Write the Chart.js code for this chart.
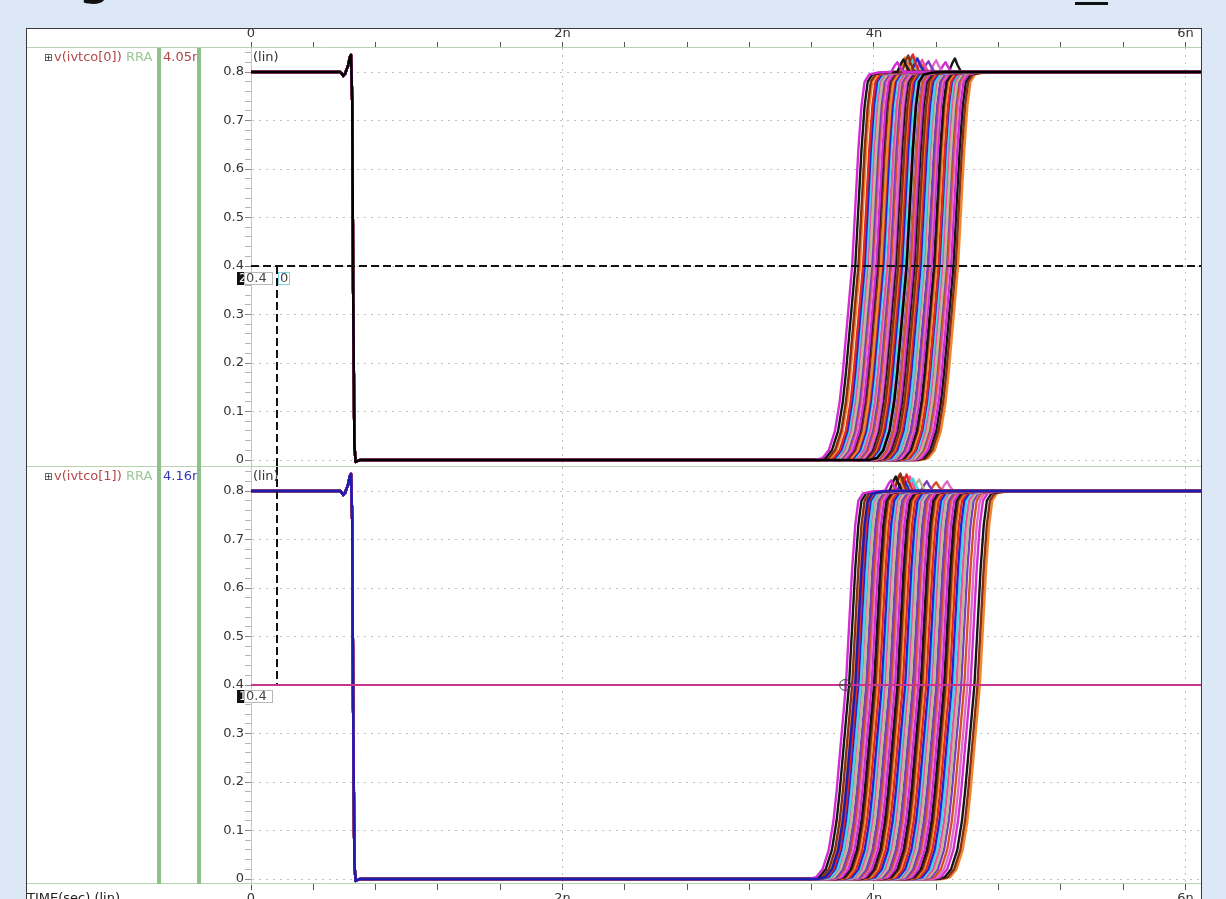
<!DOCTYPE html>
<html>
<head>
<meta charset="utf-8">
<title>v(ivtco) Monte Carlo transient</title>
<script src="https://cdn.jsdelivr.net/npm/chart.js@4.4.1/dist/chart.umd.min.js"></script>
<style>
  html, body { margin: 0; padding: 0; }
  body { position: relative; width: 1226px; height: 899px; overflow: hidden; background: #dce8f5; font-family: 'DejaVu Sans', sans-serif; }
  #title-g { position: absolute; left: 77px; top: -55px; font-size: 56px; line-height: 56px; color: #111; }
  #title-bar { position: absolute; left: 1075px; top: 2px; width: 33px; height: 3px; background: #111; }
  #frame { position: absolute; left: 26px; top: 28px; width: 1174px; height: 900px; border: 1px solid #3a3a3a; background: #fff; }
  .panel { position: absolute; left: 27px; width: 1174px; }
  .panel canvas { display: block; }
  #p1 { top: 29px; height: 438px; }
  #p2 { top: 467px; height: 432px; }
</style>
</head>
<body>
<div id="title-g">g</div>
<div id="title-bar"></div>
<div id="frame"></div>
<div class="panel" id="p1"><canvas id="c1" width="1174" height="438"></canvas></div>
<div class="panel" id="p2"><canvas id="c2" width="1174" height="432"></canvas></div>
<script>
// time in ns, voltage in V
const timeTicks = [0, 2, 4, 6];
const timeTickLabels = ['0', '2n', '4n', '6n'];
const timeMinorTicks = [0, 0.4, 0.8, 1.2, 1.6, 2, 2.4, 2.8, 3.2, 3.6, 4, 4.4, 4.8, 5.2, 5.6, 6];
const voltTicks = [0, 0.1, 0.2, 0.3, 0.4, 0.5, 0.6, 0.7, 0.8];
const voltTickLabels = ['0', '0.1', '0.2', '0.3', '0.4', '0.5', '0.6', '0.7', '0.8'];

// falling edge near 0.65n, all runs sit on top of each other there
const fallTime = [0, 0.575, 0.592, 0.605, 0.622, 0.636, 0.642, 0.650, 0.656, 0.664, 0.672, 0.70];
const fallVolt = [0.8, 0.8, 0.792, 0.797, 0.812, 0.832, 0.835, 0.74, 0.35, 0.03, -0.004, 0];

// rising edge shape, time relative to the run's 0.4 V crossing
const riseOffset = [-0.24, -0.19, -0.15, -0.11, -0.08, -0.06, -0.03, 0, 0.02, 0.04, 0.06, 0.08, 0.11, 0.17, 0.24];
const riseVolt = [0, 0.004, 0.02, 0.06, 0.12, 0.18, 0.29, 0.40, 0.52, 0.64, 0.73, 0.78, 0.795, 0.799, 0.8];

// 0.4 V crossing of every Monte Carlo run (ns)
const crossTop = [3.86, 3.88, 3.90, 3.91, 3.93, 3.94, 3.95, 3.96, 3.975, 3.985, 3.99, 4.00, 4.015, 4.02, 4.03, 4.045,
  4.05, 4.06, 4.07, 4.085, 4.09, 4.10, 4.11, 4.125, 4.13, 4.14, 4.155, 4.16, 4.17, 4.18, 4.19, 4.205,
  4.215, 4.22, 4.235, 4.24, 4.25, 4.26, 4.275, 4.28, 4.29, 4.30, 4.315, 4.32, 4.33, 4.345, 4.35, 4.36,
  4.37, 4.385, 4.39, 4.40, 4.415, 4.42, 4.43, 4.44, 4.455, 4.46, 4.47, 4.48, 4.495, 4.51, 4.525, 4.54];
const crossBottom = [3.82, 3.84, 3.86, 3.875, 3.89, 3.90, 3.915, 3.92, 3.935, 3.95, 3.96, 3.97, 3.985, 4.00, 4.01, 4.02,
  4.035, 4.05, 4.06, 4.07, 4.085, 4.10, 4.11, 4.12, 4.135, 4.15, 4.16, 4.17, 4.185, 4.20, 4.21, 4.22,
  4.235, 4.25, 4.26, 4.27, 4.285, 4.30, 4.31, 4.32, 4.335, 4.35, 4.36, 4.37, 4.385, 4.40, 4.41, 4.42,
  4.435, 4.45, 4.46, 4.47, 4.485, 4.50, 4.515, 4.53, 4.545, 4.56, 4.58, 4.60, 4.62, 4.645, 4.665, 4.68];

// small glitches above 0.8 V seen on the early runs (one per run, in run order)
const glitchTimeTop = [4.15, 4.19, 4.22, 4.20, 4.25, 4.28, 4.24, 4.31, 4.27, 4.35, 4.30, 4.40, 4.46, 4.52];
const glitchPeakTop = [0.82, 0.826, 0.834, 0.83, 0.836, 0.828, 0.832, 0.825, 0.83, 0.822, 0.818, 0.824, 0.82, 0.828];
const glitchTimeBottom = [4.11, 4.14, 4.17, 4.16, 4.21, 4.19, 4.25, 4.23, 4.29, 4.34, 4.40, 4.47];
const glitchPeakBottom = [0.822, 0.83, 0.836, 0.832, 0.834, 0.828, 0.826, 0.83, 0.824, 0.82, 0.818, 0.82];
const glitchOffset = [-0.04, -0.015, 0, 0.015, 0.04];
const glitchShare = [0, 0.7, 1, 0.55, 0];

// highlighted run, drawn on top in each panel
const lastCrossTop = 4.21;
const lastCrossBottom = 3.88;
const simEnd = 6.3;

// cursors
const cursorTime = 0.167;
const cursorLevel = 0.4;
const markerTime = 3.815;

const timeMax = 6.1;
const voltMax = 0.8495;

const runColors = ['#d42ad4', '#151515', '#8a2d12', '#f2862b', '#e3261f', '#2323d6', '#3fd6e6',
  '#ef4f9c', '#b8bb8c', '#7d3bc4', '#d4502a', '#e06ac8'];
const FONT = { family: 'DejaVu Sans', size: 13 };

function runPoints(cross, gT, gV) {
  const pts = fallTime.map((t, i) => ({ x: t, y: fallVolt[i] }));
  riseOffset.forEach((d, i) => pts.push({ x: cross + d, y: riseVolt[i] }));
  if (gT !== undefined) {
    glitchOffset.forEach((d, i) => pts.push({ x: gT + d, y: 0.8 + glitchShare[i] * (gV - 0.8) }));
  }
  pts.push({ x: simEnd, y: 0.8 });
  pts.sort((a, b) => a.x - b.x);
  return pts;
}

// Chart.js paints dataset 0 last, so the highlighted run goes first
function buildDatasets(crosses, gT, gV, lastCross, lastColor) {
  const sets = [{ data: runPoints(lastCross), borderColor: lastColor, borderWidth: 2.5 }];
  crosses.forEach((c, i) => sets.push({
    data: runPoints(c, gT[i], gV[i]),
    borderColor: runColors[i % runColors.length],
    borderWidth: 2.4
  }));
  return sets;
}

function tickIndex(v, list) {
  return list.findIndex(t => Math.abs(t - v) < 1e-6);
}

function timeScale(pos, h) {
  return {
    type: 'linear', position: pos, min: 0, max: timeMax,
    afterBuildTicks(s) { s.ticks = timeMinorTicks.map(v => ({ value: v })); },
    afterFit(s) { s.height = h; s.paddingLeft = 0; s.paddingRight = 0; },
    ticks: {
      autoSkip: false, maxRotation: 0, padding: 1, color: '#333', font: FONT,
      callback: v => { const i = tickIndex(v, timeTicks); return i < 0 ? '' : timeTickLabels[i]; }
    },
    grid: {
      color: c => (c.tick && c.tick.value > 0 && tickIndex(c.tick.value, timeTicks) >= 0) ? '#bdbdbd' : 'rgba(0,0,0,0)',
      tickColor: '#555', tickLength: 6, lineWidth: 1
    },
    border: { display: false, dash: [2, 5] }
  };
}

function voltScale(min) {
  return {
    type: 'linear', min: min, max: voltMax,
    afterFit(s) { s.width = 224; s.paddingTop = 0; s.paddingBottom = 0; },
    ticks: {
      stepSize: 0.02, autoSkip: false, includeBounds: false, padding: 1, color: '#333', font: FONT,
      callback: v => { const i = tickIndex(v, voltTicks); return i < 0 ? '' : voltTickLabels[i]; }
    },
    grid: {
      color: c => (c.tick && tickIndex(c.tick.value, voltTicks) >= 0) ? '#c2c2c2' : 'rgba(0,0,0,0)',
      tickColor: c => (c.tick && tickIndex(c.tick.value, voltTicks) >= 0) ? '#888' : '#b5b5b5',
      tickLength: 6
    },
    border: { display: true, color: '#b5d3af', dash: [2, 5] }
  };
}

function line(ctx, x1, y1, x2, y2) {
  ctx.beginPath(); ctx.moveTo(x1, y1); ctx.lineTo(x2, y2); ctx.stroke();
}

function tag(ctx, x, y, w, text, border, fill, color) {
  ctx.fillStyle = fill;
  ctx.fillRect(x, y, w, 13);
  if (border) { ctx.strokeStyle = border; ctx.lineWidth = 1; ctx.strokeRect(x + 0.5, y + 0.5, w - 1, 12); }
  ctx.fillStyle = color;
  ctx.fillText(text, x + 2, y + 7);
}

const panelDeco = {
  id: 'panelDeco',
  afterDatasetsDraw(chart, args, o) {
    const { ctx, chartArea: a } = chart;
    const xs = chart.scales.x, ys = chart.scales.y;
    const y4 = ys.getPixelForValue(cursorLevel);
    const xc = Math.round(xs.getPixelForValue(cursorTime));
    ctx.save();
    ctx.beginPath(); ctx.rect(a.left, a.top, a.right - a.left, a.bottom - a.top); ctx.clip();
    ctx.lineWidth = 2;
    ctx.strokeStyle = '#111';
    ctx.setLineDash([8, 4]);
    if (o.panel === 1) {
      line(ctx, a.left, y4, a.right, y4);
      line(ctx, xc, y4, xc, a.bottom);
    } else {
      line(ctx, xc, a.top, xc, y4);
      ctx.setLineDash([]);
      ctx.strokeStyle = '#c8358e';
      line(ctx, a.left, y4, a.right, y4);
      const xm = xs.getPixelForValue(markerTime);
      ctx.lineWidth = 1; ctx.strokeStyle = '#444';
      ctx.beginPath(); ctx.arc(xm, y4, 5.5, 0, Math.PI * 2); ctx.stroke();
      line(ctx, xm - 5.5, y4, xm + 5.5, y4);
      line(ctx, xm, y4 - 5.5, xm, y4 + 5.5);
    }
    ctx.restore();

    // cursor value tags
    ctx.save();
    ctx.font = '12px "DejaVu Sans"';
    ctx.textBaseline = 'middle';
    const ty = Math.round(y4) + (o.panel === 1 ? 6 : 5);
    tag(ctx, a.left - 14, ty, 7, o.panel === 1 ? '2' : '1', null, '#111', '#fff');
    ctx.font = '13px "DejaVu Sans"';
    tag(ctx, a.left - 7, ty, 29, '0.4', '#b8b8b8', '#fff', '#444');
    if (o.panel === 1) tag(ctx, xc + 1, ty, 12, '0', '#7fd3e6', '#fff', '#444');
    ctx.restore();
  },
  afterDraw(chart, args, o) {
    const { ctx, chartArea: a } = chart;
    const W = chart.width;
    ctx.save();
    // separators
    ctx.strokeStyle = '#b6d4b0'; ctx.lineWidth = 1;
    if (o.panel === 1) line(ctx, 0, a.top - 0.5, W, a.top - 0.5);
    line(ctx, 0, a.bottom - 0.5, W, a.bottom - 0.5);

    // trace name and value
    const ty = a.top + 10;
    ctx.textBaseline = 'middle';
    ctx.font = '10px "DejaVu Sans"'; ctx.fillStyle = '#333';
    ctx.fillText('\u229E', 17, ty);
    ctx.font = '13px "DejaVu Sans"';
    ctx.fillStyle = '#b24848';
    ctx.fillText(o.name, 27, ty);
    const nw = ctx.measureText(o.name + ' ').width;
    ctx.save();
    ctx.beginPath(); ctx.rect(0, a.top, 130, 30); ctx.clip();
    ctx.fillStyle = '#9cc79a';
    ctx.fillText('RRA', 27 + nw, ty);
    ctx.restore();
    ctx.save();
    ctx.beginPath(); ctx.rect(134, a.top, 36, 30); ctx.clip();
    ctx.fillStyle = o.valueColor;
    ctx.fillText(o.value, 136, ty);
    ctx.restore();
    ctx.fillStyle = '#333';
    ctx.fillText('(lin)', a.left + 2, ty);

    // marker bars
    ctx.fillStyle = '#8fc089';
    ctx.fillRect(130, a.top, 4, a.bottom - a.top);
    ctx.fillRect(170, a.top, 4, a.bottom - a.top);

    if (o.panel === 2) {
      ctx.fillStyle = '#222';
      ctx.textBaseline = 'top';
      ctx.fillText('TIME(sec) (lin)', 0, a.bottom + 8);
    }
    ctx.restore();
  }
};

function makeChart(id, datasets, xPos, xH, yMin, deco) {
  return new Chart(document.getElementById(id), {
    type: 'line',
    data: { datasets },
    options: {
      responsive: false, animation: false, devicePixelRatio: 1,
      layout: { autoPadding: false, padding: 0 },
      elements: { point: { radius: 0 }, line: { tension: 0, fill: false, borderJoinStyle: 'round' } },
      plugins: { legend: { display: false }, tooltip: { enabled: false }, panelDeco: deco },
      scales: { x: timeScale(xPos, xH), y: voltScale(yMin) }
    },
    plugins: [panelDeco]
  });
}

makeChart('c1', buildDatasets(crossTop, glitchTimeTop, glitchPeakTop, lastCrossTop, '#000'),
  'top', 19, -0.0144, { panel: 1, name: 'v(ivtco[0])', value: '4.05r', valueColor: '#b04545' });
makeChart('c2', buildDatasets(crossBottom, glitchTimeBottom, glitchPeakBottom, lastCrossBottom, '#1c1cb0'),
  'bottom', 15, -0.0103, { panel: 2, name: 'v(ivtco[1])', value: '4.16r', valueColor: '#3535b5' });
</script>
</body>
</html>
